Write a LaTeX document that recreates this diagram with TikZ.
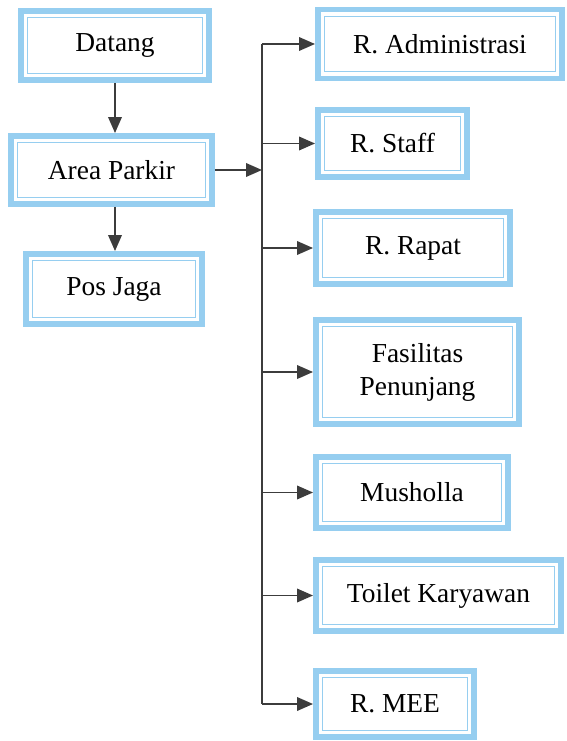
\documentclass[tikz,border=0pt]{standalone}
\usepackage{fontspec}
\setmainfont{Liberation Serif}
\usepackage{tikz}
\usetikzlibrary{arrows.meta}

\definecolor{boxblue}{RGB}{150,206,240}
\definecolor{linegray}{RGB}{60,60,60}

\tikzset{
  room/.style={draw=boxblue, line width=4.2pt, align=center, inner sep=2pt,
    font=\fontsize{19.5}{23.5}\selectfont,
    append after command={\pgfextra{\draw[boxblue, line width=0.7pt]
      ([shift={(0.24cm,0.24cm)}]\tikzlastnode.south west) rectangle
      ([shift={(-0.24cm,-0.24cm)}]\tikzlastnode.north east);}}},
  flow/.style={draw=linegray, line width=1.2pt,
    -{Triangle[length=0.4cm, width=0.34cm]}}
}

\begin{document}
\begin{tikzpicture}[x=0.025cm, y=-0.025cm]
            \useasboundingbox (0,0) rectangle (566,741);

            % Left column
            \node[room, minimum width=4.7cm, minimum height=1.725cm] (datang) at (115,45.5) {Datang};
            \node[room, minimum width=5.025cm, minimum height=1.7cm] (parkir) at (111.5,170) {Area Parkir};
            \node[room, minimum width=4.4cm, minimum height=1.75cm] (pos) at (114,289) {Pos Jaga};

            % Right column
            \node[room, minimum width=6.1cm, minimum height=1.725cm] (admin) at (440,44) {R. Administrasi};
            \node[room, minimum width=3.725cm, minimum height=1.675cm] (staff) at (392.5,143.5) {R. Staff};
            \node[room, minimum width=4.85cm, minimum height=1.8cm] (rapat) at (413,248) {R. Rapat};
            \node[room, minimum width=5.075cm, minimum height=2.6cm] (fasilitas) at (417.5,372) {Fasilitas\\Penunjang};
            \node[room, minimum width=4.8cm, minimum height=1.775cm] (musholla) at (412,492.5) {Musholla};
            \node[room, minimum width=6.125cm, minimum height=1.775cm] (toilet) at (438.5,595.5) {Toilet Karyawan};
            \node[room, minimum width=3.95cm, minimum height=1.65cm] (mee) at (395,704) {R. MEE};

            % Bus line
            \coordinate (bustop) at (262,44);
            \coordinate (busbot) at (262,704);
            \draw[linegray, line width=1.2pt] (bustop) -- (busbot);

            % Arrows
            \draw[flow] (datang.south -| 115,0) -- (parkir.north -| 115,0);
            \draw[flow] (parkir.south -| 115,0) -- (pos.north -| 115,0);
            \draw[flow] (parkir.east) -- (parkir.east -| bustop);

            \foreach \r in {admin,staff,rapat,fasilitas,musholla,toilet,mee}
              \draw[flow] (\r.west -| bustop) -- (\r.west);
        \end{tikzpicture}
\end{document}
